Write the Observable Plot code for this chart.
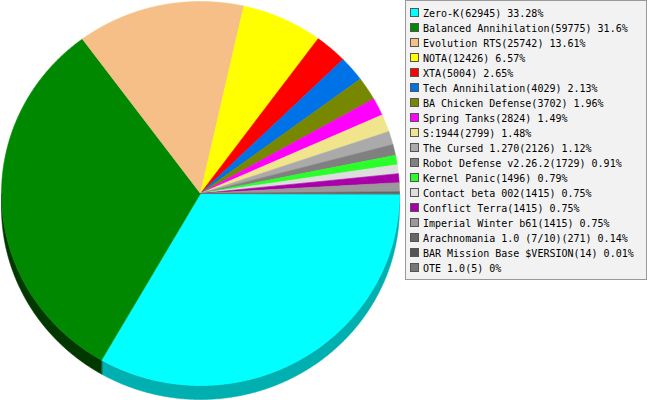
<!DOCTYPE html>
<html>
<head>
<meta charset="utf-8">
<script src="https://cdn.jsdelivr.net/npm/d3@7"></script>
<script src="https://cdn.jsdelivr.net/npm/@observablehq/plot@0.6"></script>
<style>
  html, body { margin: 0; padding: 0; background: #fff; }
  #wrap { position: relative; width: 647px; height: 400px; overflow: hidden; }
  #chart { position: absolute; left: 0; top: 0; }
  #legend {
    position: absolute; left: 405px; top: 0px; width: 240px; height: 278px;
    background: #f2f2f2; border: 1px solid #999;
    font-family: "DejaVu Sans Mono", monospace; font-size: 10px; color: #000;
  }
  .row { position: absolute; left: 0; height: 15px; line-height: 15px; white-space: nowrap; }
  .sw { position: absolute; left: 4px; top: 2.5px; width: 9px; height: 9px; box-sizing: border-box; border: 1px solid #555; }
  .lbl { position: absolute; left: 17px; top: 0; }
</style>
</head>
<body>
<div id="wrap">
  <div id="chart"></div>
  <div id="legend"></div>
</div>
<script>
const names = [
  "Zero-K", "Balanced Annihilation", "Evolution RTS", "NOTA", "XTA",
  "Tech Annihilation", "BA Chicken Defense", "Spring Tanks", "S:1944",
  "The Cursed 1.270", "Robot Defense v2.26.2", "Kernel Panic", "Contact beta 002",
  "Conflict Terra", "Imperial Winter b61", "Arachnomania 1.0 (7/10)",
  "BAR Mission Base $VERSION", "OTE 1.0"
];
const values = [62945, 59775, 25742, 12426, 5004, 4029, 3702, 2824, 2799, 2126, 1729, 1496, 1415, 1415, 1415, 271, 14, 5];
const percents = ["33.28%", "31.6%", "13.61%", "6.57%", "2.65%", "2.13%", "1.96%", "1.49%", "1.48%", "1.12%", "0.91%", "0.79%", "0.75%", "0.75%", "0.75%", "0.14%", "0.01%", "0%"];
const colors = [
  "#00ffff", "#008800", "#f5bf87", "#ffff00", "#ff0000",
  "#0072e8", "#778800", "#ff00ff", "#f0e48c",
  "#aaaaaa", "#808080", "#2aff2a", "#dddddd",
  "#aa00aa", "#999999", "#666666", "#555555", "#777777"
];

// geometry (styling, not data)
const RX = 199, RY = 192, CX = 200, CY = 193, DEPTH = 14;
const d = DEPTH / RY;
const total = d3.sum(values);
const step = Math.PI / 720;

function arcPts(a0, a1, off) {
  const pts = [];
  const n = Math.max(1, Math.ceil((a1 - a0) / step));
  for (let k = 0; k <= n; k++) {
    const a = a0 + (a1 - a0) * k / n;
    pts.push([Math.cos(a), Math.sin(a) + off]);
  }
  return pts;
}

const tops = [], sides = [];
let cum = 0;
names.forEach((name, i) => {
  const a0 = cum / total * 2 * Math.PI;
  cum += values[i];
  const a1 = cum / total * 2 * Math.PI;
  // top face
  tops.push({name, x: 0, y: 0});
  for (const [x, y] of arcPts(a0, a1, 0)) tops.push({name, x, y});
  // front side wall (visible half: 0..PI, downward)
  const b0 = Math.max(a0, 0), b1 = Math.min(a1, Math.PI);
  if (b1 > b0) {
    const c = d3.rgb(colors[i]);
    const side = d3.rgb(Math.max(0, c.r - 80), Math.max(0, c.g - 80), Math.max(0, c.b - 80)).formatHex();
    for (const [x, y] of arcPts(b0, b1, 0)) sides.push({name, side, x, y});
    for (const [x, y] of arcPts(b0, b1, d).reverse()) sides.push({name, side, x, y});
  }
});

const chart = Plot.plot({
  width: 647,
  height: 400,
  margin: 0,
  x: {domain: [-1, 1], range: [CX - RX, CX + RX], axis: null},
  y: {domain: [-1, 1], range: [CY - RY, CY + RY], axis: null},
  color: {domain: names, range: colors},
  marks: [
    Plot.line(sides, {x: "x", y: "y", z: "name", fill: "side", stroke: "side", strokeWidth: 0.6, curve: "linear-closed"}),
    Plot.line(tops, {x: "x", y: "y", z: "name", fill: "name", stroke: "name", strokeWidth: 0.6, curve: "linear-closed"})
  ]
});
document.getElementById("chart").appendChild(chart);

// legend
const legend = document.getElementById("legend");
names.forEach((name, i) => {
  const row = document.createElement("div");
  row.className = "row";
  row.style.top = (4.5 + 15 * i) + "px";
  const sw = document.createElement("div");
  sw.className = "sw";
  sw.style.background = colors[i];
  const lbl = document.createElement("span");
  lbl.className = "lbl";
  lbl.textContent = `${name}(${values[i]}) ${percents[i]}`;
  row.appendChild(sw);
  row.appendChild(lbl);
  legend.appendChild(row);
});
</script>
</body>
</html>
